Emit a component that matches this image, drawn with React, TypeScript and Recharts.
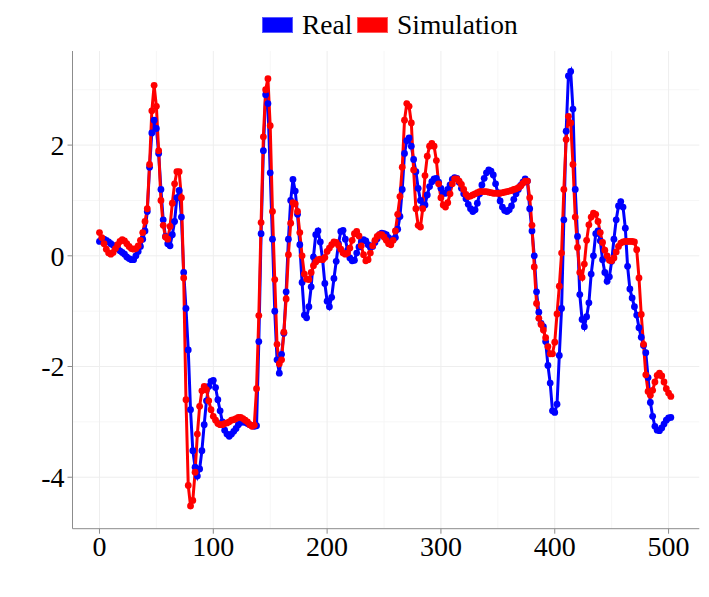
import React from "react";
import {
  LineChart, Line, XAxis, YAxis, ReferenceLine,
} from "recharts";

// sample index step (one value every 2 time units)
const T_STEP = 2;

const REAL = [
  0.26, 0.29, 0.30, 0.28, 0.25, 0.22, 0.19, 0.16, 0.13, 0.09,
  0.06, 0.03, -0.02, -0.05, -0.07, -0.07, 0.00, 0.08, 0.17, 0.30,
  0.45, 0.80, 1.60, 2.22, 2.45, 2.30, 1.85, 1.20, 0.65, 0.35,
  0.22, 0.18, 0.38, 0.62, 1.05, 1.18, 0.70, -0.30, -0.95, -1.70,
  -2.78, -3.52, -3.82, -3.98, -3.85, -3.52, -3.05, -2.62, -2.36, -2.27,
  -2.25, -2.38, -2.60, -2.80, -3.00, -3.15, -3.22, -3.26, -3.22, -3.17,
  -3.12, -3.05, -3.01, -3.00, -3.01, -3.03, -3.05, -3.07, -3.08, -3.07,
  -1.55, 0.40, 1.90, 2.91, 2.75, 1.50, 0.30, -1.00, -1.88, -2.12,
  -1.78, -1.40, -0.65, 0.30, 1.00, 1.38, 1.17, 0.75, 0.20, -0.48,
  -1.07, -1.12, -0.92, -0.56, -0.02, 0.38, 0.45, 0.25, -0.06, -0.50,
  -0.82, -0.92, -0.75, -0.41, -0.10, 0.22, 0.44, 0.46, 0.30, 0.10,
  -0.04, -0.09, -0.08, 0.05, 0.16, 0.25, 0.29, 0.27, 0.20, 0.15,
  0.17, 0.24, 0.31, 0.38, 0.41, 0.40, 0.38, 0.33, 0.29, 0.29,
  0.33, 0.48, 0.71, 1.20, 1.85, 2.08, 2.13, 1.98, 1.74, 1.52,
  1.22, 1.00, 0.88, 0.92, 1.10, 1.25, 1.34, 1.39, 1.40, 1.33,
  1.22, 1.13, 1.13, 1.20, 1.28, 1.38, 1.41, 1.40, 1.33, 1.22,
  1.12, 1.03, 0.93, 0.85, 0.80, 0.83, 0.95, 1.12, 1.28, 1.40,
  1.50, 1.55, 1.53, 1.46, 1.30, 1.14, 0.99, 0.88, 0.82, 0.80,
  0.83, 0.90, 1.02, 1.12, 1.20, 1.27, 1.33, 1.39, 1.35, 0.85,
  0.45, 0.00, -0.65, -1.02, -1.22, -1.28, -1.55, -1.98, -2.30, -2.80,
  -2.83, -2.68, -1.80, -0.95, 0.65, 2.25, 3.25, 3.33, 2.65, 1.20,
  0.35, -0.70, -1.15, -1.28, -1.10, -0.85, -0.33, 0.00, 0.40, 0.45,
  0.27, -0.07, -0.30, -0.46, -0.38, -0.10, 0.30, 0.65, 0.90, 0.98,
  0.88, 0.50, -0.19, -0.60, -0.76, -0.92, -1.07, -1.30, -1.47, -1.62,
  -1.75, -2.20, -2.65, -2.90, -3.08, -3.15, -3.16, -3.11, -3.04, -2.97,
  -2.93, -2.92,
];

const SIMULATION = [
  0.42, 0.33, 0.22, 0.12, 0.05, 0.03, 0.06, 0.13, 0.20, 0.26,
  0.29, 0.27, 0.22, 0.17, 0.13, 0.12, 0.13, 0.18, 0.28, 0.42,
  0.62, 0.85, 1.65, 2.62, 3.08, 2.70, 1.90, 1.00, 0.55, 0.34,
  0.30, 0.53, 0.95, 1.30, 1.52, 1.52, 1.05, -0.40, -2.60, -4.15,
  -4.52, -4.42, -3.91, -3.22, -2.72, -2.44, -2.36, -2.42, -2.62, -2.78,
  -2.90, -2.97, -3.03, -3.05, -3.05, -3.03, -3.02, -3.00, -2.97, -2.96,
  -2.94, -2.92, -2.92, -2.94, -2.97, -3.00, -3.05, -3.08, -3.06, -2.40,
  -1.08, 0.60, 2.15, 3.00, 3.20, 2.35, 0.80, -0.43, -1.60, -1.95,
  -1.88, -1.38, -0.78, 0.02, 0.59, 0.96, 0.94, 0.80, 0.42, 0.00,
  -0.33, -0.42, -0.43, -0.30, -0.18, -0.11, -0.07, -0.06, -0.07, -0.03,
  0.08, 0.14, 0.20, 0.25, 0.24, 0.19, 0.12, 0.05, 0.03, 0.05,
  0.14, 0.28, 0.40, 0.44, 0.36, 0.18, 0.02, -0.09, -0.07, 0.05,
  0.18, 0.28, 0.35, 0.38, 0.38, 0.34, 0.28, 0.22, 0.20, 0.28,
  0.45, 0.75, 1.07, 1.60, 2.45, 2.75, 2.70, 2.40, 1.55, 0.85,
  0.55, 0.52, 0.85, 1.45, 1.80, 1.98, 2.03, 1.98, 1.72, 1.30,
  1.05, 0.92, 0.88, 0.96, 1.12, 1.30, 1.39, 1.39, 1.35, 1.29,
  1.20, 1.11, 1.07, 1.08, 1.10, 1.12, 1.14, 1.16, 1.16, 1.16,
  1.16, 1.15, 1.14, 1.13, 1.13, 1.13, 1.13, 1.14, 1.15, 1.16,
  1.17, 1.18, 1.20, 1.21, 1.23, 1.26, 1.31, 1.35, 1.35, 1.05,
  0.55, -0.20, -0.86, -1.13, -1.24, -1.34, -1.48, -1.64, -1.77, -1.77,
  -1.56, -1.05, -0.55, 0.05, 1.20, 2.10, 2.52, 2.40, 1.65, 0.70,
  0.15, -0.30, -0.39, -0.15, 0.28, 0.56, 0.70, 0.77, 0.75, 0.62,
  0.42, 0.24, 0.10, 0.00, -0.08, -0.09, -0.04, 0.07, 0.17, 0.23,
  0.25, 0.26, 0.26, 0.26, 0.26, 0.25, 0.11, -0.40, -1.06, -1.60,
  -2.15, -2.45, -2.52, -2.43, -2.28, -2.16, -2.12, -2.17, -2.28, -2.40,
  -2.48, -2.54,
];

const X_TICKS = [0, 100, 200, 300, 400, 500];
const Y_TICKS = [-4, -2, 0, 2];
const X_MINOR = [50, 150, 250, 350, 450];
const Y_MINOR = [-3, -1, 1, 3];

const X_DOMAIN = [-23.7, 527];
const Y_DOMAIN = [-4.93, 3.7];

const BLUE = "#0000ff";
const RED = "#ff0000";
const FONT = "'Liberation Serif', 'Times New Roman', serif";

const data = REAL.map((v, i) => ({ t: i * T_STEP, real: v, sim: SIMULATION[i] }));

function LegendKey({ left, color, label }: { left: number; color: string; label: string }) {
  return (
    <>
      <div
        style={{
          position: "absolute", left, top: 17, width: 31, height: 16,
          background: color, boxSizing: "border-box", border: "1px solid rgba(255,255,255,0.35)",
        }}
      />
      <span
        style={{
          position: "absolute", left: left + 40, top: 11, fontSize: 27.5, lineHeight: "27.5px",
          color: "#000", whiteSpace: "nowrap",
        }}
      >
        {label}
      </span>
    </>
  );
}

export default function App() {
  return (
    <div
      style={{
        position: "absolute", left: 0, top: 0, width: 709, height: 597,
        background: "#fff", fontFamily: FONT,
      }}
    >
      <LegendKey left={262} color={BLUE} label="Real" />
      <LegendKey left={357} color={RED} label="Simulation" />
      <LineChart
        width={709}
        height={597}
        data={data}
        margin={{ top: 51, right: 9.7, bottom: 28.3, left: 0 }}
      >
        {X_MINOR.map((x) => (
          <ReferenceLine key={`xm${x}`} x={x} stroke="#f6f6f6" strokeWidth={1} />
        ))}
        {Y_MINOR.map((y) => (
          <ReferenceLine key={`ym${y}`} y={y} stroke="#f6f6f6" strokeWidth={1} />
        ))}
        {X_TICKS.map((x) => (
          <ReferenceLine key={`x${x}`} x={x} stroke="#eeeeee" strokeWidth={1} />
        ))}
        {Y_TICKS.map((y) => (
          <ReferenceLine key={`y${y}`} y={y} stroke="#eeeeee" strokeWidth={1} />
        ))}
        <XAxis
          dataKey="t"
          type="number"
          domain={X_DOMAIN}
          ticks={X_TICKS}
          allowDataOverflow
          height={40}
          tickSize={5}
          tickMargin={2}
          stroke="#8c8c8c"
          tick={{ fill: "#000", fontSize: 28, fontFamily: FONT }}
        />
        <YAxis
          type="number"
          domain={Y_DOMAIN}
          ticks={Y_TICKS}
          allowDataOverflow
          width={72.5}
          tickSize={5}
          tickMargin={3}
          stroke="#8c8c8c"
          tick={{ fill: "#000", fontSize: 28, fontFamily: FONT }}
        />
        <XAxis xAxisId="top" orientation="top" height={0} tick={false} tickLine={false} stroke="#dedede" />
        <YAxis yAxisId="right" orientation="right" width={0} tick={false} tickLine={false} stroke="#8c8c8c" />
        <Line
          dataKey="real"
          type="linear"
          stroke={BLUE}
          strokeWidth={3}
          dot={{ r: 3.4, fill: BLUE, stroke: "none" }}
          activeDot={false}
          isAnimationActive={false}
        />
        <Line
          dataKey="sim"
          type="linear"
          stroke={RED}
          strokeWidth={3}
          dot={{ r: 3.4, fill: RED, stroke: "none" }}
          activeDot={false}
          isAnimationActive={false}
        />
      </LineChart>
    </div>
  );
}
